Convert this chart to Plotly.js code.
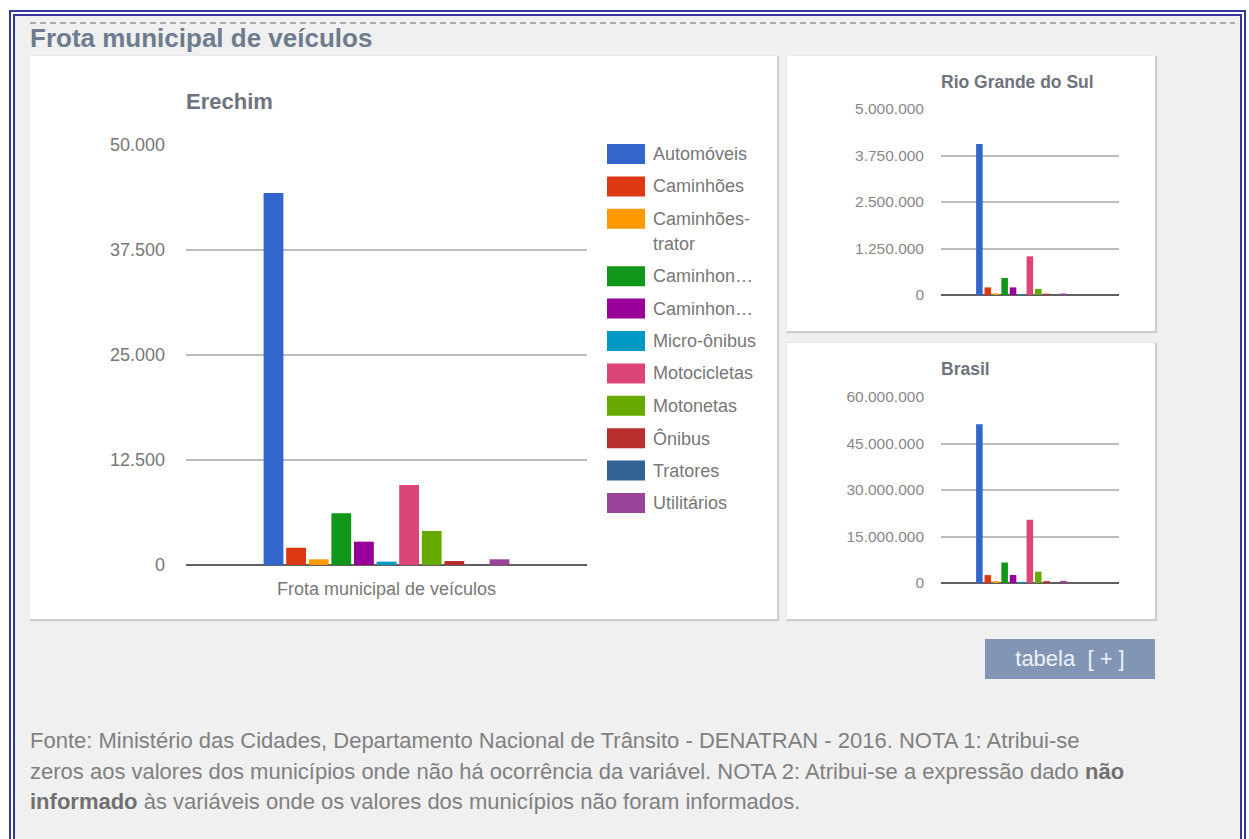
<!DOCTYPE html>
<html>
<head>
<meta charset="utf-8">
<script src="https://cdn.plot.ly/plotly-3.0.1.min.js"></script>
<style>
html,body{margin:0;padding:0;background:#fff;width:1249px;height:839px;overflow:hidden;font-family:Arial,"Liberation Sans",sans-serif;}
#frame{position:absolute;left:9px;top:10px;width:1237px;height:900px;box-sizing:border-box;border:6px double #37379b;background:#f0f0f0;background-clip:padding-box;}
#dash{position:absolute;left:30px;top:22px;width:1205px;height:2px;background:repeating-linear-gradient(to right,#aeaeae 0 6px,transparent 6px 10px);}
#head{position:absolute;left:30px;top:25px;font-size:26px;line-height:26px;font-weight:bold;color:#6f7b8f;white-space:nowrap;}
.panel{position:absolute;background:#fff;box-shadow:1px 1px 1px 1px #cdcdcd;}
#pMain{left:30px;top:56px;width:747px;height:563px;}
#pRS{left:787px;top:56px;width:368px;height:275px;}
#pBR{left:787px;top:343px;width:368px;height:276px;}
#btn{position:absolute;left:985px;top:639px;width:170px;height:40px;background:#8395b5;color:#eef1f7;font-size:22px;line-height:40px;text-align:center;white-space:pre;}
#note{position:absolute;left:30px;top:726px;font-size:22px;line-height:30.5px;color:#808080;white-space:nowrap;}
#note b{color:#707070;}
</style>
</head>
<body>
<div id="frame"></div>
<div id="dash"></div>
<div id="head">Frota municipal de veículos</div>
<div class="panel" id="pMain"></div>
<div class="panel" id="pRS"></div>
<div class="panel" id="pBR"></div>
<div id="btn">tabela  [ + ]</div>
<div id="note">Fonte: Ministério das Cidades, Departamento Nacional de Trânsito - DENATRAN - 2016. NOTA 1: Atribui-se<br>zeros aos valores dos municípios onde não há ocorrência da variável. NOTA 2: Atribui-se a expressão dado <b>não</b><br><b>informado</b> às variáveis onde os valores dos municípios não foram informados.</div>
<script>
// ---- data ----
var categories = ['Automóveis','Caminhões','Caminhões-trator','Caminhonetes','Caminhonetas','Micro-ônibus','Motocicletas','Motonetas','Ônibus','Tratores','Utilitários'];
var legendLabels = ['Automóveis','Caminhões','Caminhões-\ntrator','Caminhon…','Caminhon…','Micro-ônibus','Motocicletas','Motonetas','Ônibus','Tratores','Utilitários'];
var colors = ['#3366cc','#dc3912','#ff9900','#109618','#990099','#0099c6','#dd4477','#66aa00','#b82e2e','#316395','#994499'];
var xCategory = 'Frota municipal de veículos';
var erechim = [44300, 2060, 680, 6150, 2780, 400, 9520, 4050, 470, 20, 680];
var rioGrandeDoSul = [4060000, 204000, 40000, 457000, 204000, 25000, 1040000, 165000, 35000, 8000, 40000];
var brasil = [51200000, 2550000, 600000, 6600000, 2600000, 380000, 20400000, 3650000, 600000, 30000, 700000];
var mainTicks = [0, 12500, 25000, 37500, 50000];
var rsTicks = [0, 1250000, 2500000, 3750000, 5000000];
var brTicks = [0, 15000000, 30000000, 45000000, 60000000];

var FONT = 'Arial, "Liberation Sans", sans-serif';
var GRID = '#bdbdbd';

function makeTraces(values){
  return categories.map(function(c,i){
    return {type:'bar', x:[xCategory], y:[values[i]], name:c,
      marker:{color:colors[i], line:{width:0}}, hoverinfo:'none'};
  });
}

// ---- main chart ----
var M = {w:747, h:563, l:156, r:190, t:89, b:54};
var pw = M.w - M.l - M.r, ph = M.h - M.t - M.b;
function px2x(px){ return (px - M.l) / pw; }
function py2y(py){ return 1 - (py - M.t) / ph; }

var shapes = [], annotations = [];
var sw = {x:577, w:38, h:20, y0:98, step:32.4, extra:25, tx:621};
var cy = sw.y0;
legendLabels.forEach(function(lab, i){
  shapes.push({type:'rect', xref:'paper', yref:'paper',
    x0:px2x(sw.x), x1:px2x(sw.x+sw.w), y0:py2y(cy+sw.h/2), y1:py2y(cy-sw.h/2),
    fillcolor:colors[i], line:{width:0}});
  var lines = lab.split('\n');
  lines.forEach(function(t, k){
    annotations.push({xref:'paper', yref:'paper', x:px2x(sw.tx), y:py2y(cy + k*sw.extra),
      xanchor:'left', yanchor:'middle', text:t, showarrow:false,
      font:{family:FONT, size:18, color:'#777'}});
  });
  cy += sw.step + (lines.length-1)*sw.extra;
});

var mainLayout = {
  width:M.w, height:M.h, margin:{l:M.l, r:M.r, t:M.t, b:M.b},
  paper_bgcolor:'rgba(0,0,0,0)', plot_bgcolor:'rgba(0,0,0,0)',
  barmode:'group', bargap:0.38, bargroupgap:0.124,
  separators:',.', showlegend:false, hovermode:false,
  font:{family:FONT, color:'#777'},
  title:{text:'Erechim', x:0, xref:'paper', xanchor:'left', y:1-45/M.h, yref:'container', yanchor:'middle',
    font:{family:FONT, size:22, color:'#6e737d', weight:'bold'}},
  xaxis:{type:'category', showgrid:false, showline:false, zeroline:false, ticks:'',
    ticklabelstandoff:11, tickfont:{family:FONT, size:18, color:'#777'}},
  yaxis:{range:[0,50000], tickmode:'array', tickvals:mainTicks, tickformat:',d',
    showgrid:true, gridcolor:GRID, gridwidth:2, zeroline:true, zerolinecolor:'#606060', zerolinewidth:2,
    showline:false, ticks:'', ticklabelstandoff:20, tickfont:{family:FONT, size:18, color:'#777'}},
  shapes:shapes, annotations:annotations
};
Plotly.newPlot('pMain', makeTraces(erechim), mainLayout, {staticPlot:true, displayModeBar:false});

// ---- small charts ----
function smallLayout(title, h, t, ticks){
  return {
    width:368, height:h, margin:{l:154, r:36, t:t, b:h - t - 186},
    paper_bgcolor:'rgba(0,0,0,0)', plot_bgcolor:'rgba(0,0,0,0)',
    barmode:'group', bargap:0.48, bargroupgap:0.22,
    separators:',.', showlegend:false, hovermode:false,
    font:{family:FONT, color:'#888'},
    title:{text:title, x:0, xref:'paper', xanchor:'left', y:1-26/h, yref:'container', yanchor:'middle',
      font:{family:FONT, size:17.5, color:'#6e737d', weight:'bold'}},
    xaxis:{type:'category', range:[-0.452, 0.548], showgrid:false, showline:false, zeroline:false,
      showticklabels:false, ticks:''},
    yaxis:{range:[ticks[0], ticks[ticks.length-1]], tickmode:'array', tickvals:ticks, tickformat:',d',
      showgrid:true, gridcolor:GRID, gridwidth:2, zeroline:true, zerolinecolor:'#606060', zerolinewidth:2,
      showline:false, ticks:'', ticklabelstandoff:16, tickfont:{family:FONT, size:15.5, color:'#888'}}
  };
}
Plotly.newPlot('pRS', makeTraces(rioGrandeDoSul), smallLayout('Rio Grande do Sul', 275, 53, rsTicks), {staticPlot:true, displayModeBar:false});
Plotly.newPlot('pBR', makeTraces(brasil), smallLayout('Brasil', 276, 54, brTicks), {staticPlot:true, displayModeBar:false});
</script>
</body>
</html>
